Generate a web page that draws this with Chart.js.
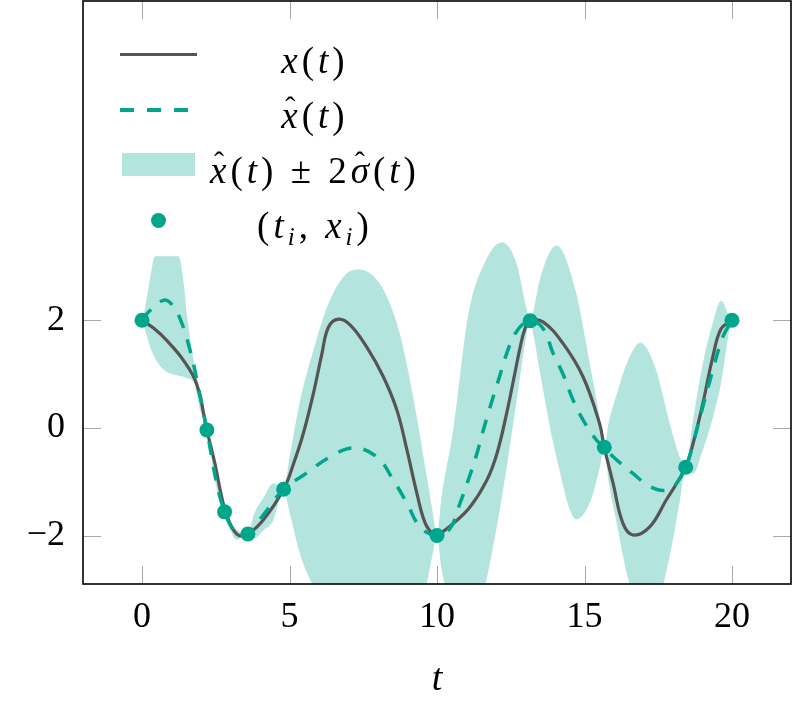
<!DOCTYPE html>
<html>
<head>
<meta charset="utf-8">
<script src="https://cdn.jsdelivr.net/npm/chart.js@4.4.0/dist/chart.umd.min.js"></script>
<style>
  html, body { margin: 0; padding: 0; background: #fff; }
  #wrap { position: relative; width: 793px; height: 707px; }
  #legend .txt {
    position: absolute; left: 170px; width: 290px; text-align: center;
    font-family: 'Liberation Serif', serif; font-size: 37px; line-height: 40px;
    letter-spacing: 4px; color: #000; white-space: nowrap;
  }
  #legend .sym { position: absolute; }
  .hat { position: relative; display: inline-block; }
  .hat .h { position: absolute; left: 4px; top: -9px; font-style: normal; font-size: 30px; letter-spacing: 0; }
  sub { font-size: 25px; vertical-align: -7px; line-height: 0; }
</style>
</head>
<body>
<div id="wrap">
  <canvas id="chart" width="793" height="707"></canvas>
  <div id="legend">
    <div class="sym" style="left:120px; top:53px; width:77px; height:0; border-top:3.5px solid #555555;"></div>
    <div class="txt" style="top:41px;"><i>x</i>(<i>t</i>)</div>

    <div class="sym" style="left:120px; top:108px; width:14px; height:0; border-top:4px solid #00a68c;"></div>
    <div class="sym" style="left:147px; top:108px; width:14px; height:0; border-top:4px solid #00a68c;"></div>
    <div class="sym" style="left:174px; top:108px; width:14px; height:0; border-top:4px solid #00a68c;"></div>
    <div class="txt" style="top:96px;"><span class="hat"><i>x</i><span class="h">ˆ</span></span>(<i>t</i>)</div>

    <div class="sym" style="left:122px; top:153px; width:73px; height:23px; background:#b3e4dd;"></div>
    <div class="txt" style="top:151px;"><span class="hat"><i>x</i><span class="h">ˆ</span></span>(<i>t</i>) ± 2<span class="hat"><i>σ</i><span class="h">ˆ</span></span>(<i>t</i>)</div>

    <div class="sym" style="left:151px; top:213px; width:15px; height:15px; border-radius:50%; background:#00a68c;"></div>
    <div class="txt" style="top:206px;">(<i>t</i><sub><i>i</i></sub>, <i>x</i><sub><i>i</i></sub>)</div>
  </div>
</div>
<script>
// observations (t_i, x_i)
const tObs = [0, 2.2, 2.8, 3.59, 4.8, 10.0, 13.16, 15.67, 18.43, 20.0];
const xObs = [2.0, -0.04, -1.56, -1.97, -1.14, -2.0, 1.99, -0.36, -0.73, 2.0];

// true signal x(t)
const tTrue = [0, 0.4, 0.83, 1.4, 1.85, 2.2, 2.47, 2.75, 2.98, 3.26, 3.59, 4.11, 4.8,
  5.14, 5.47, 5.81, 6.1, 6.32, 6.66, 7.06, 7.62, 8.18, 8.64, 8.98, 9.32, 9.6, 9.88, 10.0,
  10.56, 11.12, 11.69, 12.03, 12.36, 12.59, 12.82, 12.98, 13.16, 13.59, 14.27, 14.95,
  15.51, 15.67, 15.97, 16.3, 16.64, 17.21, 17.77, 18.43, 18.68, 19.01, 19.35, 19.63, 20.0];
const xTrue = [2.0, 1.85, 1.63, 1.26, 0.82, -0.04, -0.66, -1.4, -1.77, -1.99, -1.97, -1.71, -1.14,
  -0.66, -0.1, 0.64, 1.38, 1.87, 2.02, 1.91, 1.5, 0.95, 0.33, -0.41, -1.22, -1.77, -1.99, -2.0,
  -1.77, -1.47, -0.97, -0.48, 0.27, 0.88, 1.5, 1.84, 1.99, 1.97, 1.57, 0.95,
  0.08, -0.36, -1.03, -1.77, -1.99, -1.84, -1.34, -0.73, -0.29, 0.45, 1.32, 1.84, 2.0];

// posterior mean x_hat(t)
const tHat = [0, 0.27, 0.72, 1.0, 1.29, 1.63, 1.91, 2.2, 2.53, 2.8, 3.09, 3.32, 3.59, 4.11, 4.8,
  5.47, 6.38, 7.17, 7.96, 8.52, 8.98, 9.43, 10.0, 10.44, 10.78, 11.06, 11.35, 11.57, 11.8, 12.08,
  12.36, 12.65, 12.93, 13.16, 13.59, 13.94, 14.27, 14.62, 14.96, 15.41, 15.67, 15.98, 16.65, 17.22,
  17.78, 18.12, 18.43, 18.68, 19.01, 19.35, 19.69, 20.0];
const xHat = [2.0, 2.18, 2.37, 2.3, 2.03, 1.44, 0.76, -0.04, -1.03, -1.56, -1.9, -2.01, -1.97, -1.62, -1.14,
  -0.88, -0.54, -0.37, -0.54, -0.97, -1.4, -1.84, -2.0, -1.87, -1.4, -0.97, -0.48, -0.04, 0.39, 0.88,
  1.38, 1.75, 1.94, 2.0, 1.85, 1.38, 1.0, 0.51, 0.14, -0.23, -0.36, -0.54, -0.85, -1.09,
  -1.16, -1.03, -0.73, -0.29, 0.39, 1.07, 1.69, 2.0];

// band x_hat(t) +/- 2 sigma_hat(t)
const bandT = [0, 0.11, 0.28, 0.44, 0.7, 0.96, 1.24, 1.41, 1.52, 1.75, 1.98, 2.2, 2.5, 2.8, 3.2, 3.59,
  3.8, 4.12, 4.46, 4.8, 5.01, 5.36, 5.81, 6.27, 6.82, 7.33, 7.84, 8.29, 8.74, 9.2, 9.65, 9.85, 10.0,
  10.15, 10.56, 11.06, 11.6, 12.2, 12.7, 13.04, 13.16, 13.28, 13.48, 14.05, 14.72, 15.18, 15.51, 15.67,
  15.82, 16.08, 16.43, 16.89, 17.43, 17.89, 18.23, 18.43, 18.68, 19.01, 19.35, 19.63, 19.92, 20.0];
const bandUp = [2.0, 2.25, 2.8, 3.19, 3.19, 3.19, 3.19, 2.7, 2.12, 1.25, 0.5, -0.04, -0.9, -1.56, -1.88, -1.97,
  -1.6, -1.3, -1.03, -1.14, -0.52, 0.51, 1.44, 2.24, 2.8, 2.94, 2.82, 2.45, 1.75, 0.55, -0.9, -1.55, -2.0,
  -1.3, 0.0, 2.1, 3.05, 3.45, 3.05, 2.2, 1.99, 2.2, 2.74, 3.39, 2.5, 1.19, 0.2, -0.36,
  0.1, 0.6, 1.19, 1.58, 1.07, 0.08, -0.54, -0.73, 0.15, 1.19, 1.95, 2.36, 2.06, 2.0];
const bandLo = [2.0, 1.81, 1.5, 1.3, 1.1, 1.01, 0.97, 0.95, 0.92, 0.85, 0.3, -0.04, -1.05, -1.56, -2.08, -1.97,
  -2.05, -1.9, -1.71, -1.14, -1.58, -2.35, -2.94, -3.38, -3.66, -3.7, -3.82, -4.04, -4.3, -3.8, -2.9, -2.35, -2.0,
  -2.6, -3.44, -4.04, -3.01, -1.29, 0.51, 1.74, 1.99, 1.7, 1.06, -0.55, -1.7, -1.39, -0.76, -0.36,
  -1.0, -1.74, -2.69, -3.48, -3.31, -2.38, -1.36, -0.73, -0.85, -0.41, 0.19, 0.84, 1.84, 2.0];

const xTicks = [0, 5, 10, 15, 20];
const yTicks = [-2, 0, 2];

const teal = '#00a68c';
const gray = '#555555';
const bandColor = '#b3e4dd';

function pts(ts, vs) {
  return ts.map((t, i) => ({ x: t, y: vs[i] }));
}

// inner tick marks and black frame, pgfplots style
const frame = {
  id: 'frame',
  afterDatasetsDraw(chart) {
    const { ctx, chartArea: a, scales: { x, y } } = chart;
    ctx.save();
    ctx.strokeStyle = '#a8a8a8';
    ctx.lineWidth = 1;
    ctx.beginPath();
    xTicks.forEach(v => {
      const p = Math.round(x.getPixelForValue(v)) + 0.5;
      ctx.moveTo(p, a.bottom); ctx.lineTo(p, a.bottom - 18);
      ctx.moveTo(p, a.top); ctx.lineTo(p, a.top + 18);
    });
    yTicks.forEach(v => {
      const p = Math.round(y.getPixelForValue(v)) + 0.5;
      ctx.moveTo(a.left, p); ctx.lineTo(a.left + 18, p);
      ctx.moveTo(a.right, p); ctx.lineTo(a.right - 18, p);
    });
    ctx.stroke();
    ctx.strokeStyle = '#000';
    ctx.lineWidth = 1.6;
    ctx.strokeRect(a.left, a.top, a.right - a.left, a.bottom - a.top);
    ctx.restore();
  }
};

const tickFont = { family: "'Liberation Serif', serif", size: 36 };

new Chart(document.getElementById('chart'), {
  type: 'line',
  data: {
    datasets: [
      {
        label: '(t_i, x_i)',
        data: pts(tObs, xObs),
        showLine: false,
        pointRadius: 7.5,
        pointBackgroundColor: teal,
        pointBorderWidth: 0,
        order: 0
      },
      {
        label: 'x_hat(t)',
        data: pts(tHat, xHat),
        borderColor: teal,
        borderWidth: 3.5,
        borderDash: [14, 12],
        pointRadius: 0,
        tension: 0.4,
        fill: false,
        order: 1
      },
      {
        label: 'x(t)',
        data: pts(tTrue, xTrue),
        borderColor: gray,
        borderWidth: 3.2,
        pointRadius: 0,
        tension: 0.4,
        fill: false,
        order: 2
      },
      {
        label: 'upper',
        data: pts(bandT, bandUp),
        borderColor: 'transparent',
        borderWidth: 0,
        pointRadius: 0,
        cubicInterpolationMode: 'monotone',
        fill: false,
        order: 3
      },
      {
        label: 'x_hat +/- 2 sigma',
        data: pts(bandT, bandLo),
        borderColor: 'transparent',
        borderWidth: 0,
        pointRadius: 0,
        cubicInterpolationMode: 'monotone',
        fill: '-1',
        backgroundColor: bandColor,
        order: 4
      }
    ]
  },
  options: {
    responsive: false,
    animation: false,
    events: [],
    layout: { autoPadding: false, padding: { left: 0, right: 2, top: 1, bottom: 0 } },
    plugins: {
      legend: { display: false },
      tooltip: { enabled: false }
    },
    scales: {
      x: {
        type: 'linear',
        min: -2,
        max: 22,
        grid: { display: false, drawTicks: false },
        border: { display: false },
        afterBuildTicks: s => { s.ticks = xTicks.map(v => ({ value: v })); },
        afterFit: s => { s.height = 123; s.paddingLeft = 0; s.paddingRight = 0; },
        ticks: { color: '#000', font: tickFont, padding: 12, maxRotation: 0 },
        title: {
          display: true,
          text: 't',
          color: '#000',
          font: { family: "'Liberation Serif', serif", size: 38, style: 'italic' },
          padding: { top: 0, bottom: 4 }
        }
      },
      y: {
        type: 'linear',
        min: -2.9,
        max: 7.93,
        grid: { display: false, drawTicks: false },
        border: { display: false },
        afterBuildTicks: s => { s.ticks = yTicks.map(v => ({ value: v })); },
        afterFit: s => { s.width = 83; s.paddingTop = 0; s.paddingBottom = 0; },
        ticks: {
          color: '#000',
          font: tickFont,
          padding: 18,
          callback: v => v < 0 ? '\u2212' + (-v) : String(v)
        }
      }
    }
  },
  plugins: [frame]
});
</script>
</body>
</html>
